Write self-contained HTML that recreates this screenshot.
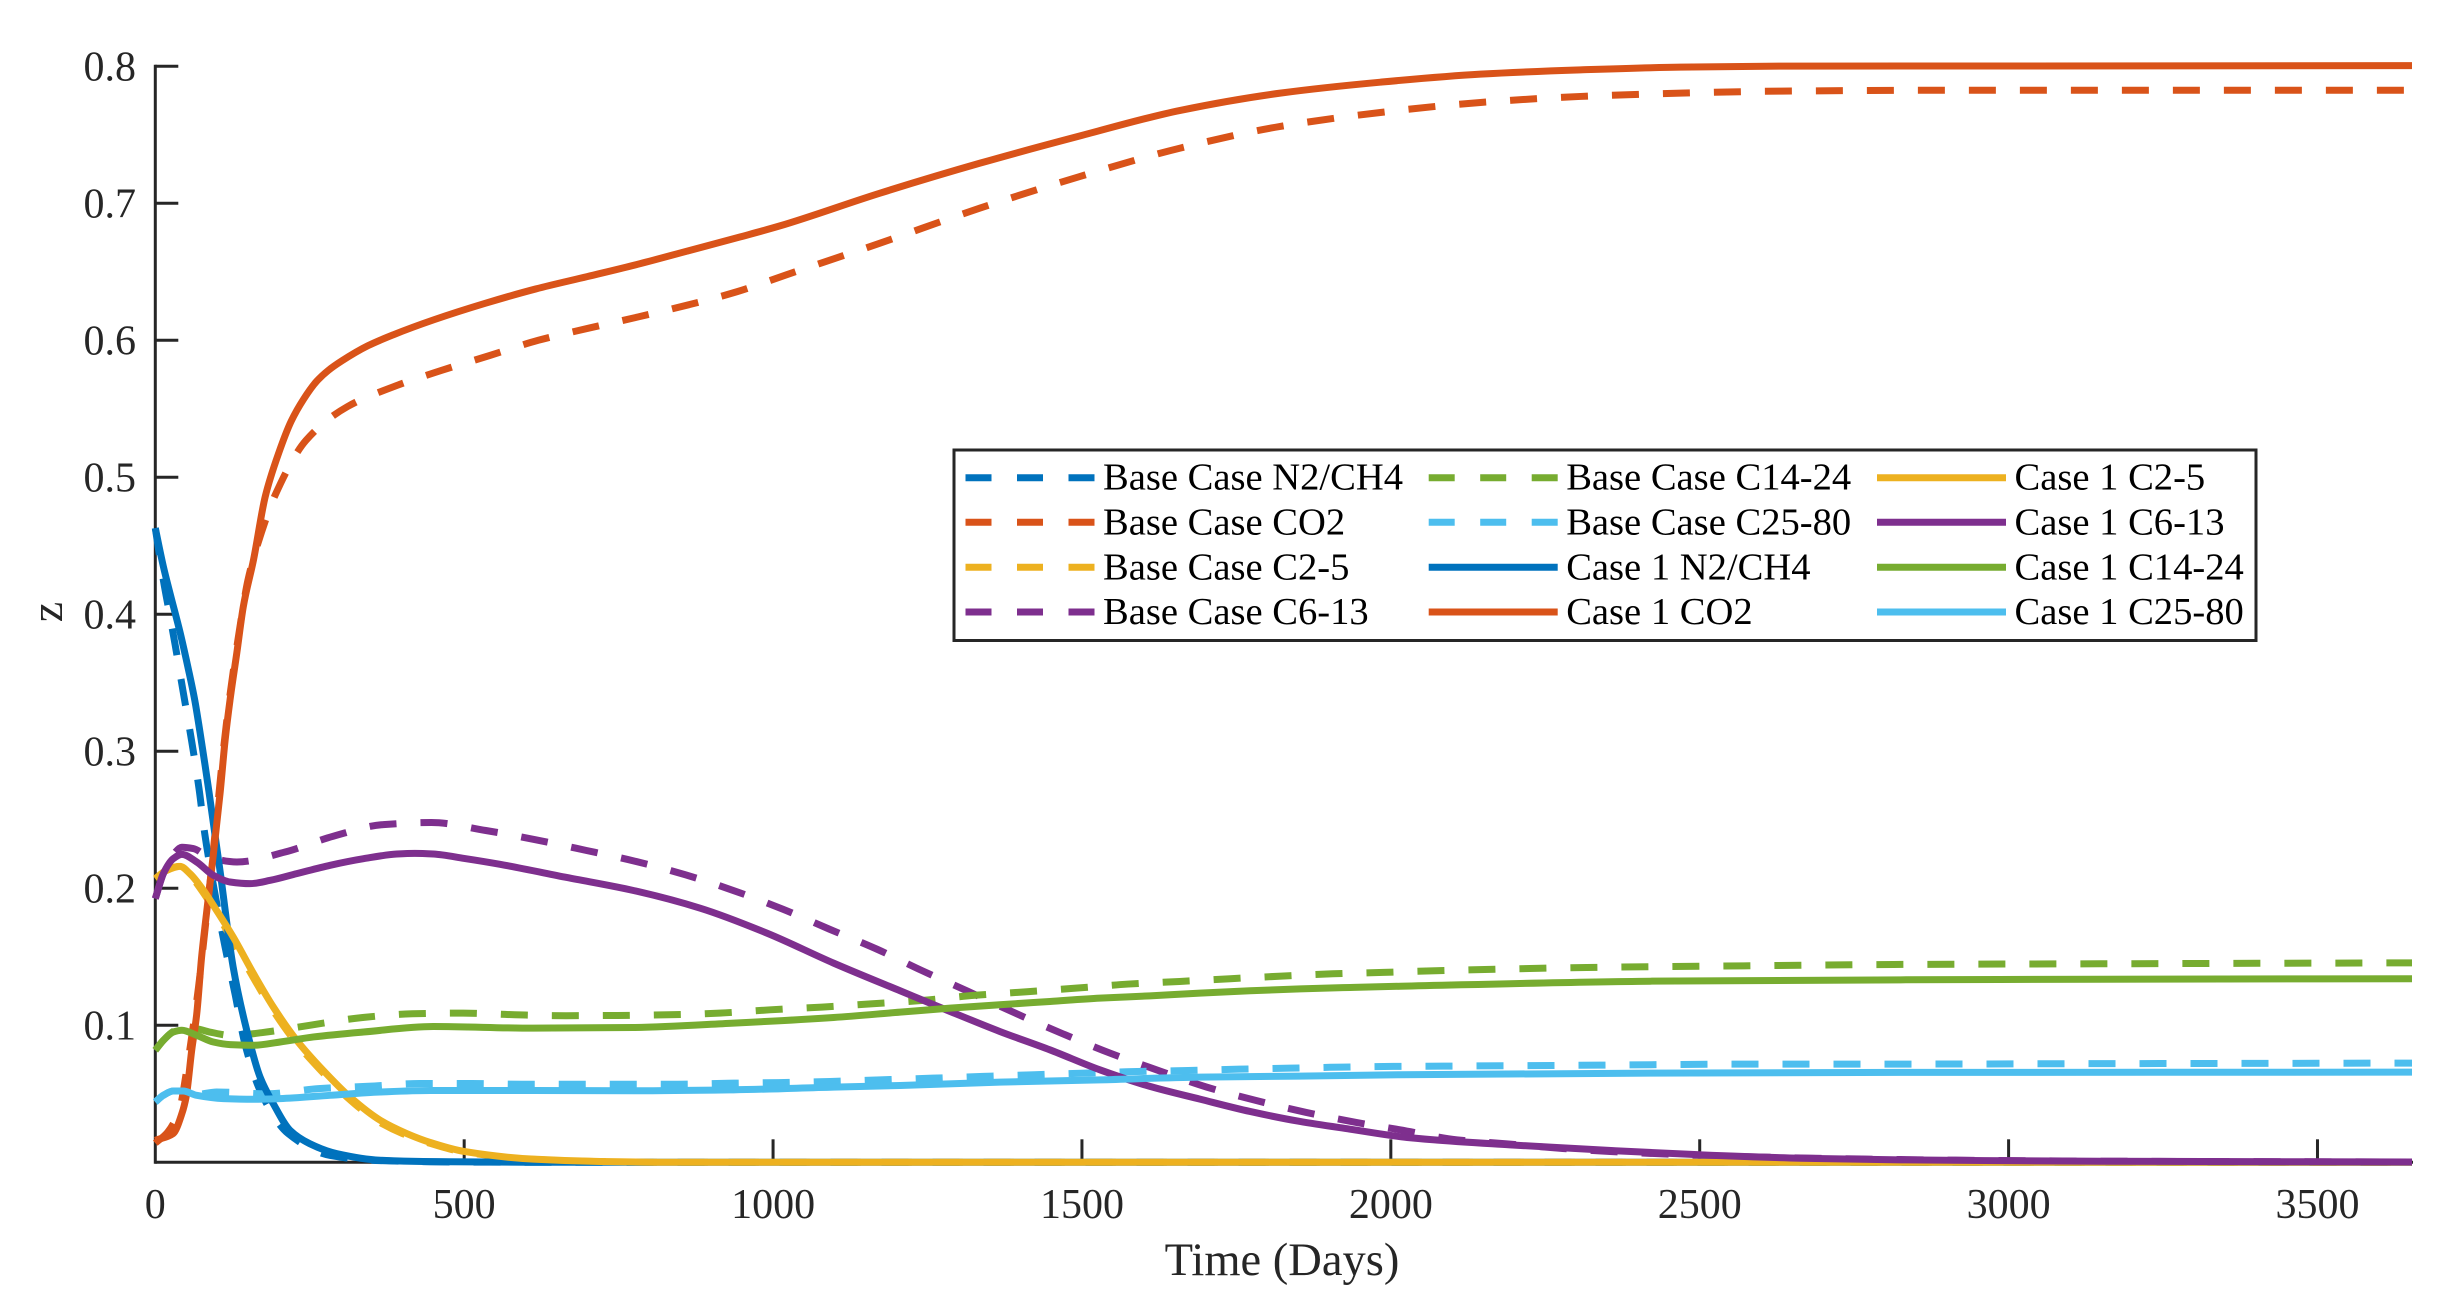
<!DOCTYPE html>
<html lang="en">
<head>
<meta charset="utf-8">
<title>Composition vs Time</title>
<style>
  html, body { margin: 0; padding: 0; background: #fff; }
  svg { display: block; }
  text { font-family: "Liberation Serif", "Times New Roman", serif; }
</style>
</head>
<body>
<svg id="chart" xmlns="http://www.w3.org/2000/svg" width="2459" height="1310" viewBox="0 0 2459 1310">
  <defs>
    <clipPath id="plot-clip"><rect x="135" y="0" width="2277" height="1310"></rect></clipPath>
  </defs>
  <rect x="0" y="0" width="2459" height="1310" fill="#ffffff"></rect>
  <g id="axes"></g>
  <g id="series" clip-path="url(#plot-clip)"></g>
  <text x="1282" y="1275" font-size="46.5" fill="#262626" text-anchor="middle">Time (Days)</text>
  <text x="0" y="0" font-size="46" fill="#262626" text-anchor="middle" transform="translate(62 612) rotate(-90)">z</text>
  <g id="legend">
    <rect x="954" y="450" width="1302" height="190.5" fill="#ffffff" stroke="#262626" stroke-width="3"></rect>
  </g>
</svg>
<script>
// Axis tick values
const xTicks = [0, 500, 1000, 1500, 2000, 2500, 3000, 3500];
const yTicks = [0.1, 0.2, 0.3, 0.4, 0.5, 0.6, 0.7, 0.8];
const xTickLabels = ['0', '500', '1000', '1500', '2000', '2500', '3000', '3500'];
const yTickLabels = ['0.1', '0.2', '0.3', '0.4', '0.5', '0.6', '0.7', '0.8'];
const xMax = 3653;
const yMax = 0.8;

// Base Case series
const baseN2Days = [0,13,24,32,45,59,71,80,97,113,129,145,172,215,283,364,500,700,3653];
const baseN2Z = [.4629,.425,.398,.378,.3437,.307,.272,.24,.195,.157,.123,.0866,.05,.021,.005,.0012,.0002,0,0];
const baseCO2Days = [0,20,40,50,60,70,80,90,100,110,120,135,150,172,195,244,311,385,463,542,620,703,781,864,942,1021,1173,1335,1497,1659,1821,1983,2145,2307,2469,2631,2900,3653];
const baseCO2Z = [.014,.022,.04,.065,.095,.128,.168,.21,.255,.30,.338,.385,.425,.46,.488,.527,.5516,.566,.578,.589,.6,.609,.617,.626,.6355,.6477,.6709,.6965,.7196,.7403,.7561,.7663,.7736,.778,.7804,.7819,.7825,.7825];
const baseC25Days = [0,18,38,54,75,96,122,155,187,225,268,310,358,400,440,495,605,710,850,3653];
const baseC25Z = [.207,.213,.216,.2107,.1985,.184,.1645,.1377,.1134,.089,.067,.0477,.0307,.021,.0145,.0079,.0023,.0006,0,0];
const baseC613Days = [0,13,29,43,61.5,88,132,210,288,369,447,535,616,698,778,858,937,1015.6,1091,1168,1240.7,1316,1392,1469,1546,1624,1702,1782,1863,1944,2015,2107,2188,2271,2355,2436,2528,2650,2825,3148,3653];
const baseC613Z = [.1925,.2107,.2245,.23,.229,.2225,.2192,.2265,.238,.2465,.248,.2422,.2354,.2276,.2196,.2099,.1982,.1848,.1702,.1556,.140,.1247,.1089,.0938,.0796,.067,.0549,.0451,.0364,.0291,.0237,.0164,.0135,.0103,.0079,.0062,.0047,.0033,.002,.0008,.0002];
const baseC1424Days = [0,13,29,43,67,88,125,172,250,334,416,498.5,582,665,748,830,913,995,1079,1161,1243,1327,1411,1493,1575,1658,1740,1823,1906,1988,2072,2317,2571,2814,3148,3653];
const baseC1424Z = [.0818,.089,.0955,.0985,.0975,.0951,.0925,.0946,.1,.1056,.1084,.1089,.1077,.107,.1072,.1077,.1089,.1113,.1133,.1157,.1182,.1219,.1245,.1272,.1301,.132,.134,.1359,.1376,.1386,.1398,.1422,.1434,.1444,.1449,.1456];
const baseC2580Days = [0,13,29,45,67,99,180,264,345,428,512,594,678,760,844,926,1009,1092,1173,1258,1340,1423,1505,1589,1672,1755,1837,1921,2004,2085,2338,2581,2814,3148,3653];
const baseC2580Z = [.044,.0489,.052,.052,.0495,.0513,.05,.0538,.0555,.0575,.0575,.057,.057,.057,.057,.0577,.0582,.059,.0602,.0614,.0627,.0639,.0651,.0663,.067,.068,.0687,.0695,.07,.0702,.0709,.0717,.0717,.072,.0724];

// Case 1 series
const case1N2Days = [0,13,24,40,53.5,64,72,80.5,87,105,126,148,169.5,191,218,250,294,364,445,600,3653];
const case1N2Z = [.4629,.435,.415,.387,.36,.337,.315,.29,.27,.212,.1426,.0964,.0623,.0428,.0234,.0136,.0063,.0015,.0005,0,0];
const case1CO2Days = [0,29,43,50,59,67,75,84,94,105,113,121,132,142.5,159,178,200,220,240,261,280,302,344,385,451,534,616,699,781,864,947,1011,1173,1335,1497,1659,1821,1983,2145,2307,2469,2631,3653];
const case1CO2Z = [.016,.021,.0355,.048,.082,.108,.15,.186,.225,.27,.308,.3376,.372,.4057,.4398,.486,.518,.541,.557,.570,.578,.585,.596,.604,.615,.627,.6375,.6465,.6555,.6655,.6755,.6835,.7074,.7293,.7492,.7678,.7804,.7884,.7943,.7974,.7994,.8001,.8005];
const case1C25Days = [0,18,40,56,78,99,126,159,191,229,272,315,364,407,445,500,612,720,850,3653];
const case1C25Z = [.207,.213,.216,.2107,.1985,.184,.1645,.1377,.1134,.089,.067,.0477,.0307,.021,.0145,.0079,.0023,.0006,0,0];
const case1C613Days = [0,13,29,43,67,94,121,153,186,229,283,337,391,420,450,500,558,666,774,882,990,1098,1205.6,1286.6,1367,1448,1529,1610,1691,1772,1853,1934,2031,2193,2360,2500,2663,2825,3148,3653];
const case1C613Z = [.1925,.2107,.2216,.2248,.2192,.2095,.2046,.2034,.2058,.2107,.2168,.2216,.225,.2255,.225,.2218,.2175,.2079,.1984,.1855,.1673,.1454,.1252,.1101,.0955,.0821,.0675,.0554,.0461,.0371,.0298,.0242,.0179,.0127,.0085,.0055,.003,.0018,.0008,.0002];
const case1C1424Days = [0,13,29,43,67,94,121,159,202,256,337,450,612,774,936,1098,1205.6,1286.6,1367,1448,1529,1610,1691,1772,1853,1934,2015,2420,2825,3148,3653];
const case1C1424Z = [.0818,.089,.0951,.0964,.0927,.0878,.0859,.0854,.0878,.0915,.0951,.0991,.0979,.0984,.1016,.1057,.1096,.1125,.115,.1174,.1198,.1215,.1235,.1252,.1266,.1276,.1285,.1322,.1332,.1336,.134];
const case1C2580Days = [0,13,29,45,67,110,159,202,283,364,445,612,774,936,1098,1205.6,1367,1529,1691,1853,2015,2420,2825,3653];
const case1C2580Z = [.044,.0489,.052,.052,.0489,.0465,.046,.0465,.0489,.0513,.0524,.0524,.0522,.0529,.0549,.0561,.0585,.0602,.0622,.0629,.0639,.0651,.0656,.0658];

// Legend entries, in column order
const seriesLabels = ['Base Case N2/CH4','Base Case CO2','Base Case C2-5','Base Case C6-13','Base Case C14-24','Base Case C25-80','Case 1 N2/CH4','Case 1 CO2','Case 1 C2-5','Case 1 C6-13','Case 1 C14-24','Case 1 C25-80'];
const seriesDays = [baseN2Days,baseCO2Days,baseC25Days,baseC613Days,baseC1424Days,baseC2580Days,case1N2Days,case1CO2Days,case1C25Days,case1C613Days,case1C1424Days,case1C2580Days];
const seriesZ = [baseN2Z,baseCO2Z,baseC25Z,baseC613Z,baseC1424Z,baseC2580Z,case1N2Z,case1CO2Z,case1C25Z,case1C613Z,case1C1424Z,case1C2580Z];

const palette = ['#0072BD','#D95319','#EDB120','#7E2F8E','#77AC30','#4DBEEE'];
const NS = 'http://www.w3.org/2000/svg';
const plotLeft = 155.3, plotRight = 2412, plotBottom = 1162.3, plotTop = 66.3;
const axisInk = '#262626';

function xScale(d) { return plotLeft + (d / xMax) * (plotRight - plotLeft); }
function yScale(z) { return plotBottom - (z / yMax) * (plotBottom - plotTop); }
function kebab(s) { return s.toLowerCase().replace(/[^a-z0-9]+/g, '-'); }

function make(tag, attrs, parent) {
  const el = document.createElementNS(NS, tag);
  for (const k in attrs) el.setAttribute(k, attrs[k]);
  parent.appendChild(el);
  return el;
}

// Monotone cubic path through the read data points
function curvePath(days, zs) {
  const xs = days.map(xScale), ys = zs.map(yScale), n = xs.length;
  const slope = [];
  for (let i = 0; i < n - 1; i++) slope.push((ys[i + 1] - ys[i]) / (xs[i + 1] - xs[i]));
  const m = [slope[0]];
  for (let i = 1; i < n - 1; i++) {
    if (slope[i - 1] * slope[i] <= 0) { m.push(0); continue; }
    const h0 = xs[i] - xs[i - 1], h1 = xs[i + 1] - xs[i];
    const w1 = 2 * h1 + h0, w2 = h1 + 2 * h0;
    m.push((w1 + w2) / (w1 / slope[i - 1] + w2 / slope[i]));
  }
  m.push(slope[n - 2]);
  let path = 'M' + xs[0].toFixed(2) + ' ' + ys[0].toFixed(2);
  for (let i = 0; i < n - 1; i++) {
    const h = (xs[i + 1] - xs[i]) / 3;
    path += 'C' + (xs[i] + h).toFixed(2) + ' ' + (ys[i] + m[i] * h).toFixed(2) + ' ' +
      (xs[i + 1] - h).toFixed(2) + ' ' + (ys[i + 1] - m[i + 1] * h).toFixed(2) + ' ' +
      xs[i + 1].toFixed(2) + ' ' + ys[i + 1].toFixed(2);
  }
  return path;
}

// Axes
const axesGroup = document.getElementById('axes');
const yAxisLine = make('line', { x1: plotLeft, y1: plotTop - 1.5, x2: plotLeft, y2: plotBottom + 1.5, stroke: axisInk, 'stroke-width': 3 }, axesGroup);


const xAxisLine = make('line', { x1: plotLeft, y1: plotBottom, x2: plotRight + 1, y2: plotBottom, stroke: axisInk, 'stroke-width': 3 }, axesGroup);



xTicks.forEach(function (t, i) {
  if (t > 0) {
    const tick = make('line', { x1: xScale(t), y1: plotBottom, x2: xScale(t), y2: plotBottom - 23, stroke: axisInk, 'stroke-width': 3 }, axesGroup);
    
    
  }
  const label = make('text', { x: xScale(t), y: 1218, 'font-size': 42, fill: axisInk, 'text-anchor': 'middle' }, axesGroup);
  label.textContent = xTickLabels[i];
  
  
});

yTicks.forEach(function (t, i) {
  const tick = make('line', { x1: plotLeft, y1: yScale(t), x2: plotLeft + 23, y2: yScale(t), stroke: axisInk, 'stroke-width': 3 }, axesGroup);
  
  
  const label = make('text', { x: 136, y: yScale(t) + 14, 'font-size': 42, fill: axisInk, 'text-anchor': 'end' }, axesGroup);
  label.textContent = yTickLabels[i];
  
  
});

// Series
const seriesGroup = document.getElementById('series');
seriesLabels.forEach(function (name, i) {
  const dashed = i < 6;
  const attrs = { d: curvePath(seriesDays[i], seriesZ[i]), fill: 'none', stroke: palette[i % 6], 'stroke-width': 7, 'stroke-linejoin': 'round' };
  if (dashed) attrs['stroke-dasharray'] = '27 24';
  const line = make('path', attrs, seriesGroup);
  
  
});

// Legend
const legendGroup = document.getElementById('legend');
const legendColumnX = [965.5, 1428.7, 1877];
const legendRowY = [477.7, 522.3, 567.3, 612];
const legendCounts = [4, 4, 4];
let legendIndex = 0;
legendCounts.forEach(function (count, col) {
  for (let row = 0; row < count; row++) {
    const idx = legendIndex++;
    const x0 = legendColumnX[col], y0 = legendRowY[row];
    const sampleAttrs = { x1: x0, y1: y0, x2: x0 + 129, y2: y0, stroke: palette[idx % 6], 'stroke-width': 7 };
    if (idx < 6) sampleAttrs['stroke-dasharray'] = '26 25.5';
    const sample = make('line', sampleAttrs, legendGroup);
    
    
    const label = make('text', { x: x0 + 137.5, y: y0 + 12, 'font-size': 38.6, fill: '#000000' }, legendGroup);
    label.textContent = seriesLabels[idx];
    
    
  }
});
</script>
</body>
</html>
